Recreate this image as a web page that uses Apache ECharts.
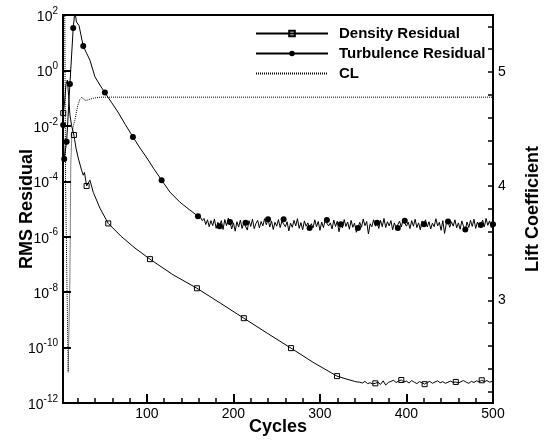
<!DOCTYPE html>
<html>
<head>
<meta charset="utf-8">
<title>Residual history</title>
<script src="https://cdn.jsdelivr.net/npm/echarts@6/dist/echarts.min.js"></script>
<style>
  html, body { margin: 0; padding: 0; background: #fff; }
  #chart { width: 551px; height: 445px; }
</style>
</head>
<body>
<div id="chart"></div>
<script>
// residuals are kept as log10 values

// density residual
const densityCycles = [3.3, 5, 6.5, 8, 9.5, 11, 13, 15.6, 18, 20.6, 24.5, 26.4, 27.8, 30.3, 34.1, 38, 45.7,
  55.3, 70, 85, 103.5, 130, 157.8, 185, 212, 239, 266.5, 293, 319.7, 330, 340]
const densityLog = [-1.54, -1.1, -0.5, -0.35, -0.9, -1.6, -2.0, -2.33, -2.8, -3.16, -3.6, -3.78, -3.68, -4.17, -3.96, -4.4, -4.97,
  -5.52, -5.98, -6.38, -6.81, -7.37, -7.86, -8.4, -8.94, -9.48, -10.02, -10.55, -11.03, -11.13, -11.22]
// density floor, every 3 cycles from 343
const densityFloorStart = 343
const densityFloorLog = [
  -11.24, -11.25, -11.28, -11.22, -11.30, -11.27, -11.31, -11.29, -11.25, -11.33,
  -11.20, -11.35, -11.26, -11.22, -11.18, -11.26, -11.21, -11.17, -11.24, -11.21,
  -11.28, -11.19, -11.25, -11.30, -11.23, -11.27, -11.32, -11.26, -11.22, -11.29,
  -11.24, -11.20, -11.27, -11.23, -11.29, -11.25, -11.21, -11.26, -11.24, -11.28,
  -11.23, -11.19, -11.25, -11.29, -11.22, -11.26, -11.20, -11.24, -11.18, -11.23,
  -11.19, -11.25, -11.22]
const densityMarks = [3.3, 15.6, 30.3, 55.3, 103.5, 157.8, 212, 266.5, 319.7, 364, 394, 421, 457, 487]

// turbulence residual
const turbCycles = [3.2, 4.4, 7.2, 11, 14.8, 16.8, 18.5, 20, 21.5, 26.4, 30.3, 34.1, 39.9, 45.7, 51.4,
  59, 66.5, 75, 83.8, 92, 100, 108, 117, 126.6, 138, 149.7, 159]
const turbLog = [-1.97, -3.2, -2.57, -0.49, 1.53, 2.15, 1.75, 1.8, 1.62, 0.88, 0.62, 0.37, -0.23, -0.53, -0.8,
  -1.15, -1.5, -1.95, -2.4, -2.8, -3.16, -3.55, -3.96, -4.39, -4.75, -5.04, -5.26]
// turbulence floor, every 2 cycles from 162
const turbFloorStart = 162
const turbFloorLog = [
  -5.30, -5.42, -5.34, -5.56, -5.39, -5.64, -5.42, -5.60, -5.36, -5.70,
  -5.48, -5.62, -5.42, -5.74, -5.38, -5.60, -5.33, -5.47, -5.72, -5.50,
  -5.80, -5.46, -5.65, -5.40, -5.70, -5.49, -5.50, -5.76, -5.42, -5.63,
  -5.37, -5.71, -5.52, -5.41, -5.68, -5.45, -5.61, -5.35, -5.57, -5.37,
  -5.65, -5.43, -5.74, -5.48, -5.62, -5.38, -5.67, -5.44, -5.37, -5.64,
  -5.46, -5.79, -5.51, -5.66, -5.41, -5.61, -5.35, -5.70, -5.49, -5.75,
  -5.43, -5.62, -5.50, -5.69, -5.53, -5.68, -5.39, -5.64, -5.45, -5.77,
  -5.47, -5.67, -5.42, -5.40, -5.61, -5.50, -5.72, -5.40, -5.63, -5.44,
  -5.82, -5.55, -5.68, -5.38, -5.63, -5.47, -5.73, -5.41, -5.66, -5.51,
  -5.84, -5.69, -5.48, -5.66, -5.36, -5.60, -5.45, -5.90, -5.53, -5.64,
  -5.39, -5.62, -5.50, -5.70, -5.41, -5.64, -5.34, -5.67, -5.46, -5.61,
  -5.42, -5.75, -5.50, -5.68, -5.69, -5.44, -5.65, -5.40, -5.42, -5.62,
  -5.47, -5.71, -5.42, -5.62, -5.37, -5.67, -5.50, -5.75, -5.43, -5.55,
  -5.39, -5.65, -5.46, -5.72, -5.51, -5.64, -5.35, -5.61, -5.48, -5.77,
  -5.42, -5.88, -5.53, -5.45, -5.66, -5.46, -5.62, -5.39, -5.68, -5.50,
  -5.73, -5.43, -5.64, -5.74, -5.47, -5.67, -5.41, -5.63, -5.37, -5.70,
  -5.47, -5.66, -5.58, -5.40, -5.64, -5.34, -5.59, -5.43, -5.67, -5.55]
const turbMarks = [3.2, 4.4, 7.2, 11, 14.8, 26.4, 51.4, 83.8, 117, 159, 184, 196, 214, 240, 258, 288, 308,
  324, 344, 366, 390, 398, 420, 448, 468, 486, 500]

// lift coefficient
const clCycles = [3, 5, 6, 9, 11, 12, 13.3, 15, 16.8, 18.5, 20.2, 22.5, 24.9, 27, 29.5, 33, 38, 46, 500]
const clValues = [6.0, 5.6, 4.0, 2.37, 3.2, 4.2, 4.46, 4.53, 4.58, 4.65, 4.71, 4.76, 4.78, 4.76, 4.75, 4.76, 4.77, 4.78, 4.78]

// ticks and labels
const cycleLabels = [100, 200, 300, 400, 500]
const cycleMinor = [20, 40, 60, 80, 120, 140, 160, 180, 220, 240, 260, 280, 320, 340, 360, 380, 420, 440, 460, 480]
const clLabels = [3, 4, 5]
const clTicks = [2.2, 2.4, 2.6, 2.8, 3, 3.2, 3.4, 3.6, 3.8, 4, 4.2, 4.4, 4.6, 4.8, 5, 5.2, 5.4]

const FONT = '"Liberation Sans", Arial, Helvetica, sans-serif'

const buildLine = (xs, ys, marks) => xs.map((x, i) => {
  const item = { value: [x, ys[i]] }
  if (!marks.includes(x)) item.symbol = 'none'
  return item
})

const densityX = densityCycles.concat(densityFloorLog.map((v, i) => densityFloorStart + 3 * i))
const densityY = densityLog.concat(densityFloorLog)
const turbX = turbCycles.concat(turbFloorLog.map((v, i) => turbFloorStart + 2 * i))
const turbY = turbLog.concat(turbFloorLog)

const chart = echarts.init(document.getElementById('chart'))

chart.setOption({
  animation: false,
  textStyle: { fontFamily: FONT, color: '#000' },
  grid: {
    left: 63, right: 58, top: 15, bottom: 42,
    show: true, borderColor: '#000', borderWidth: 2,
    outerBoundsMode: 'none'
  },
  legend: {
    orient: 'vertical',
    left: 250, top: 21,
    itemWidth: 72, itemHeight: 7, itemGap: 5,
    selectedMode: false,
    textStyle: { fontFamily: FONT, fontSize: 15, fontWeight: 'bold', color: '#000', padding: [0, 0, 0, 6] },
    data: ['Density Residual', 'Turbulence Residual', 'CL']
  },
  xAxis: [
    {
      type: 'value', min: 3, max: 500, position: 'bottom',
      axisLine: { show: false, onZero: false }, splitLine: { show: false },
      axisTick: { show: true, inside: true, length: 9, lineStyle: { color: '#000', width: 2 }, customValues: cycleLabels },
      axisLabel: { customValues: cycleLabels, color: '#000', fontSize: 14, margin: 4 },
      name: 'Cycles', nameLocation: 'middle', nameGap: 15, nameMoveOverlap: false,
      nameTextStyle: { fontSize: 18, fontWeight: 'bold', color: '#000' }
    },
    {
      type: 'value', min: 3, max: 500, position: 'bottom',
      axisLine: { show: false, onZero: false }, splitLine: { show: false },
      axisTick: { show: true, inside: true, length: 5, lineStyle: { color: '#000', width: 1.5 }, customValues: cycleMinor },
      axisLabel: { show: false }
    }
  ],
  yAxis: [
    {
      type: 'value', min: -12, max: 2, interval: 2, position: 'left',
      axisLine: { show: false, onZero: false }, splitLine: { show: false },
      axisTick: { show: true, inside: true, length: 8, lineStyle: { color: '#000', width: 2 } },
      axisLabel: {
        margin: 5,
        formatter: v => '{b|10}{s|' + v + '}',
        rich: {
          b: { fontFamily: FONT, fontSize: 14, color: '#000', lineHeight: 18, verticalAlign: 'bottom' },
          s: { fontFamily: FONT, fontSize: 10, color: '#000', lineHeight: 10, verticalAlign: 'top' }
        }
      },
      name: 'RMS Residual', nameLocation: 'middle', nameGap: 27, nameRotate: 90, nameMoveOverlap: false,
      nameTextStyle: { fontSize: 18, fontWeight: 'bold', color: '#000' }
    },
    {
      type: 'value', min: 2.1, max: 5.5, position: 'right',
      axisLine: { show: false, onZero: false }, splitLine: { show: false },
      axisTick: { show: true, inside: true, length: 5, lineStyle: { color: '#000', width: 1.5 }, customValues: clTicks },
      axisLabel: { customValues: clLabels, color: '#000', fontSize: 14, margin: 5 },
      name: 'Lift Coefficient', nameLocation: 'middle', nameGap: 31, nameRotate: 90, nameMoveOverlap: false,
      nameTextStyle: { fontSize: 18, fontWeight: 'bold', color: '#000' }
    }
  ],
  series: [
    {
      name: 'Density Residual', type: 'line', xAxisIndex: 0, yAxisIndex: 0,
      symbol: 'rect', symbolSize: 5, showAllSymbol: true,
      lineStyle: { color: '#000', width: 1 },
      itemStyle: { color: 'transparent', borderColor: '#000', borderWidth: 1 },
      emphasis: { disabled: true },
      data: buildLine(densityX, densityY, densityMarks)
    },
    {
      name: 'Turbulence Residual', type: 'line', xAxisIndex: 0, yAxisIndex: 0,
      symbol: 'circle', symbolSize: 6, showAllSymbol: true,
      lineStyle: { color: '#000', width: 1 },
      itemStyle: { color: '#000' },
      emphasis: { disabled: true },
      data: buildLine(turbX, turbY, turbMarks)
    },
    {
      name: 'CL', type: 'line', xAxisIndex: 0, yAxisIndex: 1,
      symbol: 'circle', showSymbol: false,
      lineStyle: { color: '#000', width: 1, type: [1, 1] },
      itemStyle: { color: 'transparent', borderWidth: 0 },
      emphasis: { disabled: true },
      data: clCycles.map((c, i) => [c, clValues[i]])
    }
  ]
})
</script>
</body>
</html>
